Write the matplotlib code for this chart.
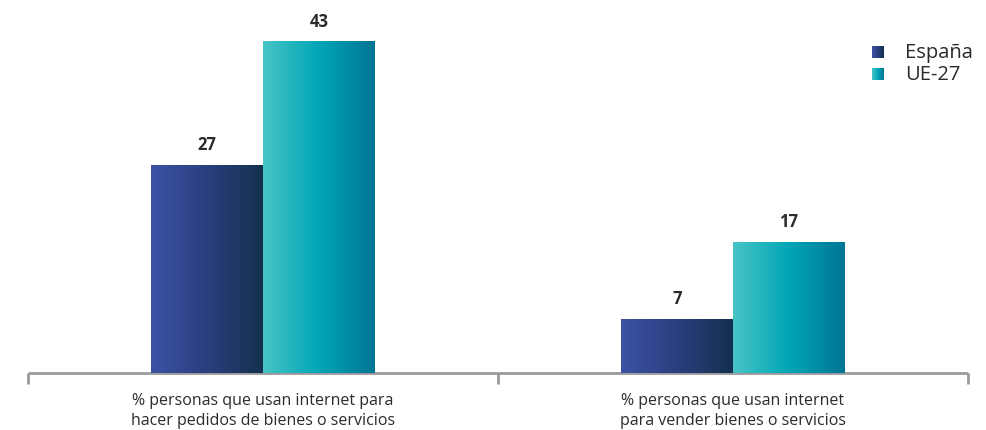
import matplotlib
matplotlib.use('Agg')
import matplotlib.pyplot as plt
from matplotlib.colors import LinearSegmentedColormap
import numpy as np

# ── Data ────────────────────────────────────────────────────
categories = ['% personas que usan internet para\nhacer pedidos de bienes o servicios',
              '% personas que usan internet\npara vender bienes o servicios']
series_names = ['España', 'UE-27']
espana = [27, 7]
ue27 = [43, 17]

# ── Colours (horizontal gradients) ─────────────────────────
ESP_CMAP = LinearSegmentedColormap.from_list('esp', ['#3D52A4', '#2A3F7E', '#14304F'])
UE_CMAP = LinearSegmentedColormap.from_list('ue', ['#48C4C6', '#00A6B6', '#007593'])
AXIS_GRAY = '#9A9A9A'
TEXT = '#2B2B2B'

plt.rcParams['font.family'] = ['Open Sans', 'DejaVu Sans']

W, H = 986, 431
fig = plt.figure(figsize=(W / 100, H / 100), dpi=100)
ax = fig.add_axes([28 / W, 57 / H, 940 / W, 374 / H])
ax.axis('off')

grad = np.linspace(0, 1, 256).reshape(1, -1)
bw = 0.238


def gradient_bar(x0, height, cmap):
    ax.imshow(grad, cmap=cmap, extent=[x0, x0 + bw, 0, height],
              aspect='auto', interpolation='bicubic', zorder=2)


for i, (e, u) in enumerate(zip(espana, ue27)):
    gradient_bar(i - bw, e, ESP_CMAP)
    gradient_bar(i, u, UE_CMAP)
    ax.annotate(f'{e}', xy=(i - bw / 2, e), xytext=(0, 15), textcoords='offset points',
                ha='center', va='center', fontsize=12, fontweight='bold', color=TEXT)
    ax.annotate(f'{u}', xy=(i + bw / 2, u), xytext=(0, 15), textcoords='offset points',
                ha='center', va='center', fontsize=12, fontweight='bold', color=TEXT)

ax.set_xlim(-0.5, len(categories) - 0.5)
ax.set_ylim(0, 374 / 7.7)

# baseline with downward ticks at category boundaries
ax.plot([-0.5, len(categories) - 0.5], [0, 0], color=AXIS_GRAY, lw=2.0,
        clip_on=False, zorder=1, solid_capstyle='butt')
for b in np.arange(-0.5, len(categories), 1.0):
    ax.plot([b, b], [0, -11 / 7.7], color=AXIS_GRAY, lw=2.0, clip_on=False,
            solid_capstyle='butt')

for i, cat in enumerate(categories):
    ax.annotate(cat, xy=(i, 0), xytext=(0, -26.5), textcoords='offset points',
                ha='center', va='center', fontsize=11.5, color=TEXT, linespacing=1.3)

# legend with gradient swatches
for k, (name, cmap) in enumerate(zip(series_names, [ESP_CMAP, UE_CMAP])):
    yc = 53 + k * 22
    sw = fig.add_axes([872 / W, 1 - (yc + 6) / H, 12 / W, 12 / H])
    sw.imshow(grad, cmap=cmap, aspect='auto')
    sw.axis('off')
    fig.text(905 / W, 1 - yc / H, name, ha='left', va='center',
             fontsize=14.5, color=TEXT)

fig.savefig('out.png', dpi=100)
